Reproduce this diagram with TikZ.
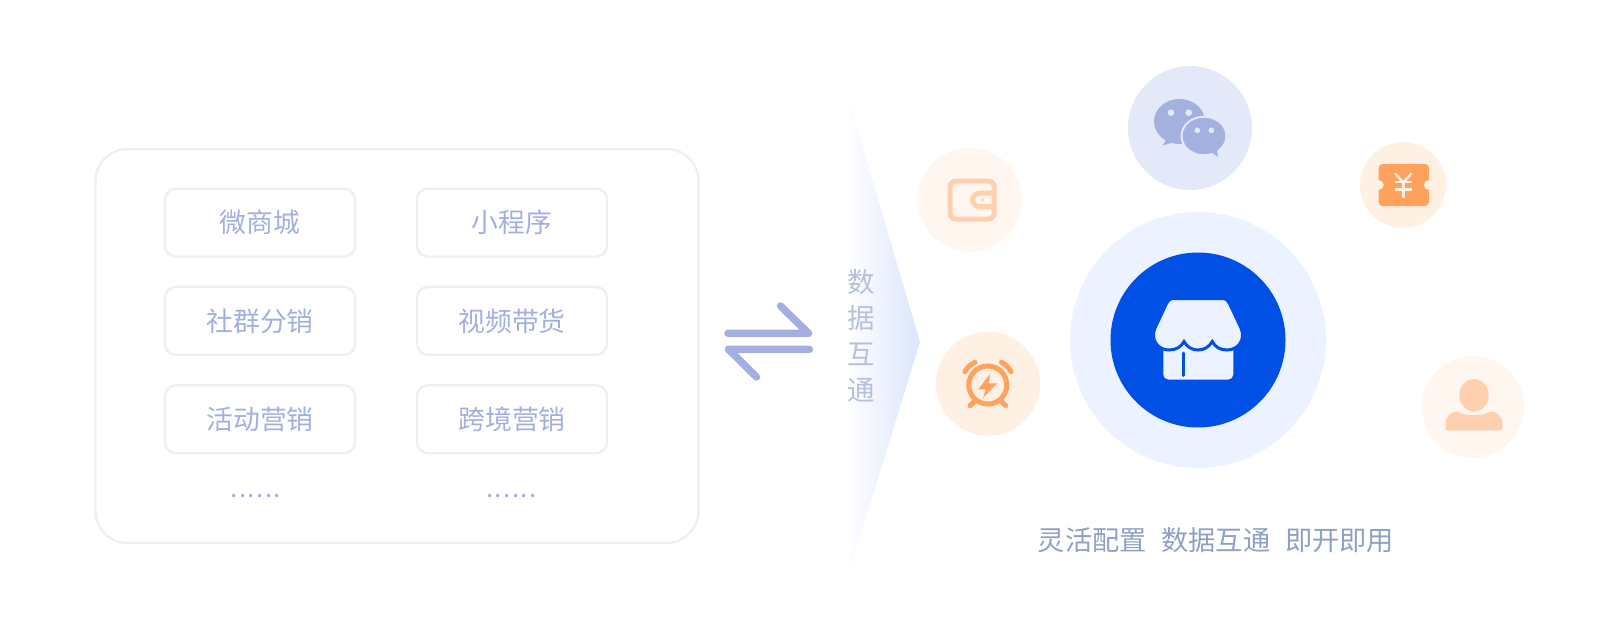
\documentclass[tikz,border=0pt]{standalone}
\usepackage{fontspec}
\setmainfont{Noto Sans CJK SC}
\definecolor{boxline}{HTML}{EFEFEF}
\definecolor{boxtext}{HTML}{A3AFDF}
\definecolor{arrowblue}{HTML}{A4AEDF}
\definecolor{sidetext}{HTML}{B5C1DC}
\definecolor{slogan}{HTML}{8FA0C4}
\definecolor{coneblue}{HTML}{DAE5FD}
\definecolor{storeblue}{HTML}{0050E6}
\definecolor{storepale}{HTML}{ECF2FF}
\definecolor{chatpale}{HTML}{E4E9FA}
\definecolor{chatblue}{HTML}{A4B0DE}
\definecolor{peachpale}{HTML}{FFF6F0}
\definecolor{peachmid}{HTML}{FFF0E4}
\definecolor{peachsoft}{HTML}{FFD0B0}
\definecolor{peachdeep}{HTML}{FFA25E}
\tikzset{mbox/.style = {shape = rectangle,
                                    draw = boxline,
                                    line width = 2.4pt,
                                    rounded corners = 11pt,
                                    minimum width = 190pt,
                                    minimum height = 68pt,
                                    text = boxtext,
                                    inner sep = 0pt,
                                    font = \fontsize{26.8}{26.8}\selectfont},
         mdisc/.style = {shape = circle,
                                    inner sep = 0pt,
                                    outer sep = 0pt},
         mdots/.style = {anchor = base,
                                    text = boxtext,
                                    inner sep = 0pt,
                                    font = \fontsize{26}{26}\selectfont},
         mchar/.style = {text = sidetext,
                                    inner sep = 0pt,
                                    font = \fontsize{27.5}{27.5}\selectfont}}
\newcommand{\sixdots}{.\kern1.4pt.\kern1.4pt.\kern1.4pt.\kern1.4pt.\kern1.4pt.}
\begin{document}
\begin{tikzpicture}[x=1pt,y=-1pt]
	\useasboundingbox (0,0) rectangle (1610,640);
	% left panel
	\node[draw = boxline, line width = 2.4pt, rounded corners = 32pt, minimum width = 603pt, minimum height = 394pt, inner sep = 0pt] (panel) at (397,346) {};
	\node[mbox] (box1) at (260,222.7) {微商城};
	\node[mbox] (box2) at (512,222.7) {小程序};
	\node[mbox] (box3) at (260,320.9) {社群分销};
	\node[mbox] (box4) at (512,320.9) {视频带货};
	\node[mbox] (box5) at (260,419.2) {活动营销};
	\node[mbox] (box6) at (512,419.2) {跨境营销};
	\node[mdots] (dots1) at (255.7,497.5) {\sixdots};
	\node[mdots] (dots2) at (511.5,497.5) {\sixdots};
	% exchange arrows
	\draw[arrowblue, line width = 7.4pt, line cap = round, line join = round] (780.5,306) -- (808.5,333.3) -- (728,333.3);
	\draw[arrowblue, line width = 7.4pt, line cap = round, line join = round] (756.5,377) -- (728.5,349.3) -- (809.5,349.3);
	% cone
	\shade[left color = white, right color = coneblue] (845,87) -- (920,342) -- (845,586) -- cycle;
	\node[mchar] (c1) at (861.7,281.7) {数};
	\node[mchar] (c2) at (861.7,318.3) {据};
	\node[mchar] (c3) at (861.7,354.3) {互};
	\node[mchar] (c4) at (861.7,390.3) {通};
	% store
	\node[mdisc, fill = storepale, minimum size = 256pt] (halo) at (1198,340) {};
	\node[mdisc, fill = storeblue, minimum size = 175pt] (core) at (1198,340) {};
	\fill[storepale, rounded corners = 5pt] (1163.3,335) rectangle (1233.3,379.5);
	\draw[storeblue, line width = 3pt, fill = storepale] (1172,298.5) -- (1222,298.5)
		.. controls (1226,298.5) and (1228,300.5) .. (1229.5,303.5) -- (1241,328)
		.. controls (1246,340) and (1238,350) .. (1227,350)
		.. controls (1220,350) and (1215,347) .. (1212.3,341.5)
		.. controls (1209,347) and (1204,350) .. (1198,350)
		.. controls (1192,350) and (1187,347) .. (1184,341.5)
		.. controls (1181,347) and (1176,350) .. (1169,350)
		.. controls (1158,350) and (1150,340) .. (1155,328) -- (1166.5,303.5)
		.. controls (1168,300.5) and (1170,298.5) .. (1172,298.5) -- cycle;
	\draw[storeblue, line width = 3pt, line cap = round] (1183.3,353) -- (1183.3,375.5);
	% wechat
	\node[mdisc, fill = chatpale, minimum size = 124pt] (chat) at (1190,128) {};
	\fill[chatblue] (1179.5,121.5) ellipse [x radius = 25.5pt, y radius = 22.5pt];
	\fill[chatblue] (1166,140) -- (1162.7,145.5) -- (1174,142) -- cycle;
	\node[mdisc, fill = chatpale, minimum size = 6.6pt] (eye1) at (1171,112.7) {};
	\node[mdisc, fill = chatpale, minimum size = 6.6pt] (eye2) at (1188.7,112.7) {};
	\draw[chatpale, fill = chatblue, line width = 2pt] (1204,136) ellipse [x radius = 22.5pt, y radius = 19.3pt];
	\fill[chatblue] (1211,152) -- (1218,157) -- (1217,150) -- cycle;
	\node[mdisc, fill = chatpale, minimum size = 5.6pt] (eye3) at (1197.3,130.3) {};
	\node[mdisc, fill = chatpale, minimum size = 5.6pt] (eye4) at (1211.3,130.3) {};
	% wallet
	\node[mdisc, fill = peachpale, minimum size = 104pt] (wallet) at (969.7,199.7) {};
	\draw[peachsoft, line width = 5pt, rounded corners = 6pt] (950,181) rectangle (994.2,219);
	\draw[peachsoft, line width = 5pt, rounded corners = 7pt] (994.2,193.2) -- (972.5,193.2) -- (972.5,206.6) -- (994.2,206.6);
	\node[mdisc, fill = peachsoft, minimum size = 3.4pt] (clasp) at (982.3,200) {};
	% alarm
	\node[mdisc, fill = peachmid, minimum size = 104pt] (alarm) at (988,383.7) {};
	\node[mdisc, draw = peachdeep, line width = 5pt, minimum size = 38pt] (ring) at (987.8,385) {};
	\draw[peachdeep, line width = 5pt, line cap = round] (965,371.7) .. controls (967,367.5) and (970.5,364.5) .. (975,362.3);
	\draw[peachdeep, line width = 5pt, line cap = round] (1011,371.7) .. controls (1009,367.5) and (1005.5,364.5) .. (1001.5,362.3);
	\draw[peachdeep, line width = 5pt, line cap = round] (970,405.7) -- (974,401.7);
	\draw[peachdeep, line width = 5pt, line cap = round] (1005.7,405.7) -- (1001.7,401.7);
	\fill[peachdeep] (990,374) -- (978.3,389.3) -- (986,389.3) -- (982.7,398.3) -- (997.3,383.3) -- (989,383.3) -- cycle;
	% ticket
	\node[mdisc, fill = peachmid, minimum size = 86pt] (ticket) at (1403,185) {};
	\fill[peachdeep, rounded corners = 4pt] (1378.7,164) rectangle (1429,206);
	\node[mdisc, fill = peachmid, minimum size = 10pt] (nick1) at (1378.7,185) {};
	\node[mdisc, fill = peachmid, minimum size = 10pt] (nick2) at (1429,185) {};
	\draw[peachmid, line width = 2.4pt, line cap = round] (1395.5,174) -- (1403.3,182.5) -- (1411,174);
	\draw[peachmid, line width = 2.4pt] (1394.5,182) -- (1412.3,182);
	\draw[peachmid, line width = 2.4pt] (1394.5,189.5) -- (1412.3,189.5);
	\draw[peachmid, line width = 2.4pt, line cap = round] (1403.3,182.5) -- (1403.3,197);
	% user
	\node[mdisc, fill = peachpale, minimum size = 102pt] (user) at (1473,407) {};
	\fill[peachsoft, rounded corners = 2pt] (1445.5,430.3) -- (1445.5,424)
		.. controls (1446,417) and (1451,411.5) .. (1459,411.5)
		.. controls (1465,416) and (1483,416) .. (1489,411.5)
		.. controls (1497,411.5) and (1502,417) .. (1502.5,424) -- (1502.5,430.3) -- cycle;
	\draw[peachpale, line width = 2pt, fill = peachsoft] (1474,395.3) ellipse [x radius = 15.8pt, y radius = 17.4pt];
	% caption
	\node[text = slogan, inner sep = 0pt, font = \fontsize{27.2}{27.2}\selectfont] (caption) at (1216,540) {灵活配置\hspace{15pt}数据互通\hspace{15pt}即开即用};
\end{tikzpicture}
\end{document}
